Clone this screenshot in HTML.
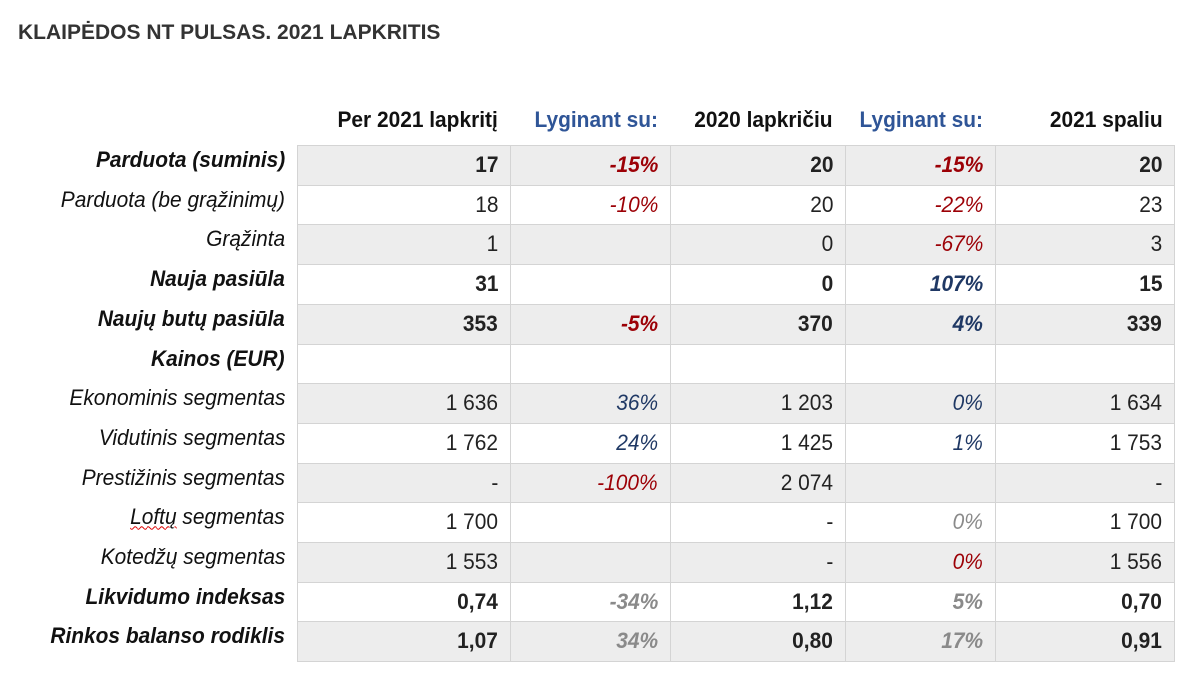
<!DOCTYPE html>
<html><head><meta charset="utf-8"><style>
body{margin:0;width:1191px;height:677px;background:#fff;font-family:"Liberation Sans",sans-serif;position:relative;overflow:hidden}
.t{position:absolute;left:18px;top:21px;font-size:21px;font-weight:bold;color:#333;transform:scaleX(1);transform-origin:left;white-space:nowrap}
.c{position:absolute;box-sizing:border-box;height:40px;font-size:22px;line-height:36px;text-align:right;padding-right:12px;white-space:nowrap}
.c span{display:inline-block;transform:scaleX(0.95);transform-origin:right}
.b{border-left:1px solid #d4d4d4;border-top:1px solid #d4d4d4}
.h{font-weight:bold;color:#111}
</style></head><body>
<div class="t">KLAIPĖDOS NT PULSAS. 2021 LAPKRITIS</div>
<div id="tbl"></div>
<script>
const colX=[297,510,670,845,995,1175];
const headers=["Per 2021 lapkritį","Lyginant su:","2020 lapkričiu","Lyginant su:","2021 spaliu"];
const labels=["Parduota (suminis)","Parduota (be grąžinimų)","Grąžinta","Nauja pasiūla","Naujų butų pasiūla","Kainos (EUR)","Ekonominis segmentas","Vidutinis segmentas","Prestižinis segmentas","Loftų segmentas","Kotedžų segmentas","Likvidumo indeksas","Rinkos balanso rodiklis"];
const labelBold=[1,0,0,1,1,1,0,0,0,0,0,1,1];
const values=[
["17","-15%","20","-15%","20"],
["18","-10%","20","-22%","23"],
["1","","0","-67%","3"],
["31","","0","107%","15"],
["353","-5%","370","4%","339"],
["","","","",""],
["1 636","36%","1 203","0%","1 634"],
["1 762","24%","1 425","1%","1 753"],
["-","-100%","2 074","","-"],
["1 700","","-","0%","1 700"],
["1 553","","-","0%","1 556"],
["0,74","-34%","1,12","5%","0,70"],
["1,07","34%","0,80","17%","0,91"]];
const pctColor=[
["r","r"],["r","r"],["r","r"],["r","u"],["r","u"],["r","r"],["u","u"],["u","u"],["r","r"],["g","g"],["g","r"],["g","g"],["g","g"]];
const col={r:"#9c0006",u:"#1f3864",g:"#8a8a8a"};
const root=document.getElementById('tbl');
const top0=145,rh=39.7;
headers.forEach((h,i)=>{const d=document.createElement('div');d.className='c h';


d.style.left=colX[i]+'px';d.style.width=(colX[i+1]-colX[i])+'px';d.style.top='102px';
if(i%2==1)d.style.color='#2f5597';
d.innerHTML='<span>'+h+'</span>';root.appendChild(d);});
labels.forEach((l,r)=>{const y=top0+r*rh;
const lab=document.createElement('div');lab.className='c';


lab.style.left='0px';lab.style.width='297px';lab.style.top=(y-3)+'px';
lab.style.fontStyle='italic';lab.style.fontWeight=labelBold[r]?'bold':'normal';lab.style.color='#111';
lab.innerHTML=r==9?'<span><u style="text-decoration:underline wavy #d00;text-decoration-thickness:1px">Loftų</u> segmentas</span>':'<span>'+l+'</span>';
root.appendChild(lab);
for(let i=0;i<5;i++){const d=document.createElement('div');d.className='c b';


d.style.left=colX[i]+'px';d.style.width=(colX[i+1]-colX[i])+'px';d.style.top=y+'px';d.style.height=(rh+0.5)+'px';
d.style.background=(r%2==0)?'#ededed':'#fff';
if(i==4)d.style.borderRight='1px solid #d4d4d4';
if(r==12)d.style.borderBottom='1px solid #d4d4d4';
d.style.fontWeight=labelBold[r]?'bold':'normal';
if(i%2==1){d.style.fontStyle='italic';d.style.color=col[pctColor[r][(i-1)/2]];}else d.style.color='#222';
d.style.lineHeight='38px';
d.innerHTML='<span>'+values[r][i]+'</span>';root.appendChild(d);}
});
</script>
</body></html>
